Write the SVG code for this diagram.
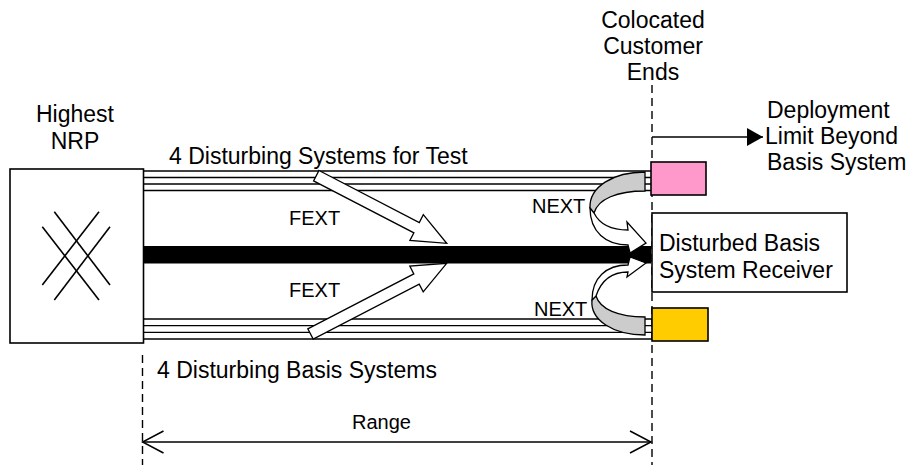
<svg xmlns="http://www.w3.org/2000/svg" width="914" height="465" viewBox="0 0 914 465">
<defs>
<style>
text{font-family:"Liberation Sans",Arial,sans-serif;fill:#000}
.lbl{font-size:23px}
.sm{font-size:20px}
.box{fill:#fff;stroke:#000;stroke-width:1.6}
.wire{stroke:#000;stroke-width:1.3;fill:none}
.xl{stroke:#000;stroke-width:1.6;fill:none}
.dash{stroke:#000;stroke-width:1.4;stroke-dasharray:8 5;fill:none}
.blk{fill:#fff;stroke:#000;stroke-width:1.3;stroke-linejoin:miter}
.back{fill:#cccccc;stroke:#000;stroke-width:1.3}
.conn{stroke:#000;stroke-width:1.5;fill:none}
</style>
<marker id="vhead" viewBox="0 0 24 24" refX="22" refY="12" markerWidth="24" markerHeight="24" markerUnits="userSpaceOnUse" orient="auto-start-reverse">
<path d="M1,1 L22,12 L1,23" fill="none" stroke="#000" stroke-width="1.5"/>
</marker>
<marker id="solid" viewBox="0 0 16 18" refX="16" refY="9" markerWidth="16" markerHeight="18" markerUnits="userSpaceOnUse" orient="auto">
<path d="M0,0 L16,9 L0,18 Z" fill="#000"/>
</marker>
</defs>

<g id="guides">
<line class="dash" x1="652" y1="85" x2="652" y2="465"/>
<line class="dash" x1="142.5" y1="355" x2="142.5" y2="465"/>
</g>

<g id="test-systems">
<line class="wire" x1="143" y1="171" x2="651" y2="171"/>
<line class="wire" x1="143" y1="177.5" x2="651" y2="177.5"/>
<line class="wire" x1="143" y1="184" x2="651" y2="184"/>
<line class="wire" x1="143" y1="190.5" x2="651" y2="190.5"/>
</g>

<g id="basis-systems">
<line class="wire" x1="143" y1="319" x2="652" y2="319"/>
<line class="wire" x1="143" y1="325.7" x2="652" y2="325.7"/>
<line class="wire" x1="143" y1="332.3" x2="652" y2="332.3"/>
<line class="wire" x1="143" y1="339" x2="652" y2="339"/>
</g>

<g id="disturbed-line">
<rect x="143" y="246" width="508" height="17.5" fill="#000"/>
</g>

<g id="nrp">
<rect class="box" x="10" y="169" width="133.5" height="174"/>
<line class="xl" x1="54.3" y1="211.7" x2="110" y2="285"/>
<line class="xl" x1="99" y1="211.7" x2="42.3" y2="285"/>
<line class="xl" x1="42.3" y1="226.7" x2="99" y2="300"/>
<line class="xl" x1="110" y1="226.7" x2="54.3" y2="300"/>
<text class="lbl" x="75" y="122" text-anchor="middle">Highest</text>
<text class="lbl" x="75" y="149" text-anchor="middle">NRP</text>
</g>

<g id="test-end">
<rect x="651" y="162" width="55" height="33" fill="#ff99cc" stroke="#000" stroke-width="1.6"/>
</g>

<g id="receiver">
<rect class="box" x="652" y="213" width="195" height="79"/>
<text class="lbl" x="659" y="250.5">Disturbed Basis</text>
<text class="lbl" x="659" y="278">System Receiver</text>
</g>

<g id="basis-end">
<rect x="652" y="308" width="56" height="33" fill="#ffcc00" stroke="#000" stroke-width="1.6"/>
</g>

<g id="connectors">
<polygon class="blk" points="319,170.5 419.3,222.5 423.3,214.7 446.7,243.3 409.9,240.5 413.9,232.8 313.6,180.9"/>
<polygon class="blk" points="307.8,328.9 413.8,273.9 409.8,266.1 446.7,263.3 423.2,291.9 419.2,284.2 313.2,339.1"/>
<path class="back" d="M645,172 C613,172 589,187 590,208 L594,213 C598,199 617,191 645,191 Z"/>
<path class="blk" d="M590,208 C590,232 606,245 628,245 L630,253 L646,243 L627,222 L628,230 C613,230 600,225 594,213 Z"/>
<path class="back" d="M645,335 C613,335 590,320 592,300 L596,296 C600,309 618,317 645,317 Z"/>
<path class="blk" d="M592,300 C592,278 606,265 628,265 L630,257 L646,263 L627,277 L628,272 C612,272 601,281 596,296 Z"/>
<line class="conn" x1="142.5" y1="442" x2="651" y2="442" marker-start="url(#vhead)" marker-end="url(#vhead)"/>
<line class="conn" x1="652" y1="137" x2="763" y2="137" marker-end="url(#solid)"/>
</g>

<g id="labels">
<text class="lbl" x="653" y="28" text-anchor="middle">Colocated</text>
<text class="lbl" x="653" y="54" text-anchor="middle">Customer</text>
<text class="lbl" x="653" y="80" text-anchor="middle">Ends</text>
<text class="lbl" x="767" y="118">Deployment</text>
<text class="lbl" x="765" y="144">Limit Beyond</text>
<text class="lbl" x="767" y="169.5">Basis System</text>
<text class="lbl" x="169" y="164">4 Disturbing Systems for Test</text>
<text class="lbl" x="157" y="378">4 Disturbing Basis Systems</text>
<text class="sm" x="289" y="225">FEXT</text>
<text class="sm" x="289" y="296.5">FEXT</text>
<text class="sm" x="532" y="212.5">NEXT</text>
<text class="sm" x="534" y="315.5">NEXT</text>
<text class="sm" x="352" y="429">Range</text>
</g>
</svg>
